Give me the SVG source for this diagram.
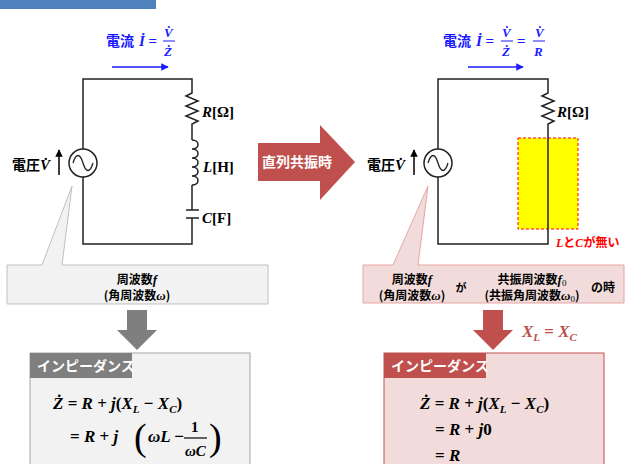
<svg xmlns="http://www.w3.org/2000/svg" width="630" height="464" viewBox="0 0 630 464">
<style>
.w{fill:none;stroke:#222;stroke-width:1.5}
.m{font-family:"Liberation Serif",serif;font-weight:bold;font-style:italic}
.mu{font-family:"Liberation Serif",serif;font-weight:bold;font-style:normal}
.mp{font-family:"Liberation Serif",serif;font-weight:normal;font-style:normal}
.j{font-family:"Noto Sans CJK JP",sans-serif;font-weight:bold;font-style:normal}
.blue{fill:#1a1aff}
</style>
<defs>
<marker id="ab" viewBox="0 0 10 10" refX="9" refY="5" markerWidth="5" markerHeight="5" orient="auto"><path d="M0,0L10,5L0,10z" fill="#1a1aff"/></marker>
<marker id="ak" viewBox="0 0 10 10" refX="9" refY="5" markerWidth="5" markerHeight="5" orient="auto"><path d="M0,0L10,5L0,10z" fill="#000"/></marker>
</defs>
<rect x="0" y="-2" width="156" height="11" fill="#4f81bd"/>

<g id="left-circuit">
<path class="w" d="M83,149V79H192V93l-6,3 12,5-12,5 12,5-12,5 12,5-6,3V140M192,185V210M186,210h13M186,218h13M192,218V244H83V177"/>
<path class="w" d="M192,140c8,0 8,9 0,9c8,0 8,9 0,9c8,0 8,9 0,9c8,0 8,9 0,9c8,0 8,9 0,9"/>
<circle cx="83" cy="163" r="14" fill="#fff" stroke="#222" stroke-width="1.5"/>
<path d="M73,163c3,-10 7,-10 10,0s7,10 10,0" fill="none" stroke="#222" stroke-width="1.3"/>
<text class="m" x="202" y="117" font-size="15">R<tspan class="mu">[Ω]</tspan></text>
<text class="m" x="203" y="172" font-size="15">L<tspan class="mu">[H]</tspan></text>
<text class="m" x="202" y="223" font-size="15">C<tspan class="mu">[F]</tspan></text>
<text class="j" x="12" y="170" font-size="14">電圧<tspan class="m" font-size="15">V̇</tspan></text>
<line x1="59" y1="175" x2="59" y2="150" stroke="#000" stroke-width="1.5" marker-end="url(#ak)"/>
<text class="j blue" x="106" y="46" font-size="14">電流</text>
<text class="m blue" x="139" y="46" font-size="15">İ <tspan class="mu">=</tspan></text>
<text class="m blue" x="164" y="37" font-size="13">V̇</text>
<line x1="163" y1="41" x2="175" y2="41" stroke="#1a1aff"/>
<text class="m blue" x="164" y="56" font-size="13">Ż</text>
<line x1="112" y1="67" x2="168" y2="67" stroke="#1a1aff" stroke-width="1.5" marker-end="url(#ab)"/>
</g>

<g id="left-callout">
<path d="M72,186L62,265H268V304H7V265H42Z" fill="#f2f2f2" stroke="#bfbfbf" stroke-width="1"/>
<text class="j" x="137" y="284" font-size="12" text-anchor="middle">周波数<tspan class="m" font-size="13">f</tspan></text>
<text class="j" x="137" y="300" font-size="12" text-anchor="middle">(角周波数<tspan class="m" font-size="13">ω</tspan>)</text>
</g>
<path id="gray-arrow" d="M127,310H147V330H157L137,350L117,330H127Z" fill="#7f7f7f"/>

<g id="left-imp">
<rect x="30" y="353" width="220" height="120" fill="#f2f2f2" stroke="#a6a6a6"/>
<rect x="30" y="353" width="102" height="25" fill="#7f7f7f"/>
<text class="j" x="37" y="371" font-size="14" fill="#fff">インピーダンス</text>
<text class="m" x="53" y="409" font-size="17">Ż <tspan class="mu">=</tspan> R <tspan class="mu">+</tspan> j<tspan class="mu">(</tspan>X<tspan font-size="11" dy="4">L</tspan><tspan dy="-4"> </tspan><tspan class="mu">−</tspan> X<tspan font-size="11" dy="4">C</tspan><tspan class="mu" dy="-4">)</tspan></text>
<text class="m" x="70" y="442" font-size="17"><tspan class="mu">=</tspan> R <tspan class="mu">+</tspan> j</text>
<text class="mp" x="134" y="450" font-size="38">(</text>
<text class="m" x="148" y="442" font-size="17">ωL <tspan class="mu">−</tspan></text>
<text class="mu" x="191" y="432" font-size="15">1</text>
<line x1="184" y1="438" x2="207" y2="438" stroke="#000" stroke-width="1.2"/>
<text class="m" x="185" y="456" font-size="15">ωC</text>
<text class="mp" x="209" y="450" font-size="38">)</text>
</g>

<g id="mid-arrow">
<path d="M258,143H320V125L355,162L320,200V181H258Z" fill="#c0504d"/>
<text class="j" x="262" y="167" font-size="14" fill="#fff">直列共振時</text>
</g>

<g id="right-circuit">
<rect x="518" y="138" width="60" height="91" fill="#ffff00" stroke="#ff0000" stroke-dasharray="3,2"/>
<path class="w" d="M438,149V79H548V93l-6,3 12,5-12,5 12,5-12,5 12,5-6,3V244H438V177"/>
<circle cx="438" cy="163" r="14" fill="#fff" stroke="#222" stroke-width="1.5"/>
<path d="M428,163c3,-10 7,-10 10,0s7,10 10,0" fill="none" stroke="#222" stroke-width="1.3"/>
<text class="m" x="557" y="117" font-size="15">R<tspan class="mu">[Ω]</tspan></text>
<text class="j" x="367" y="170" font-size="14">電圧<tspan class="m" font-size="15">V̇</tspan></text>
<line x1="414" y1="175" x2="414" y2="150" stroke="#000" stroke-width="1.5" marker-end="url(#ak)"/>
<text class="j blue" x="443" y="46" font-size="14">電流</text>
<text class="m blue" x="476" y="46" font-size="15">İ <tspan class="mu">=</tspan></text>
<text class="m blue" x="502" y="37" font-size="13">V̇</text>
<line x1="501" y1="41" x2="513" y2="41" stroke="#1a1aff"/>
<text class="m blue" x="502" y="56" font-size="13">Ż</text>
<text class="mu blue" x="517" y="46" font-size="15">=</text>
<text class="m blue" x="535" y="37" font-size="13">V̇</text>
<line x1="533" y1="41" x2="545" y2="41" stroke="#1a1aff"/>
<text class="m blue" x="534" y="56" font-size="13">R</text>
<line x1="468" y1="67" x2="523" y2="67" stroke="#1a1aff" stroke-width="1.5" marker-end="url(#ab)"/>
<text class="m" x="556" y="247" font-size="12" fill="#ff0000">L<tspan class="j">と</tspan>C<tspan class="j">が無い</tspan></text>
</g>

<g id="right-callout">
<path d="M428,186L418,265H624V303H363V265H393Z" fill="#f2dcdb" stroke="#e6a5a3" stroke-width="1"/>
<text class="j" x="412" y="284" font-size="12" text-anchor="middle">周波数<tspan class="m" font-size="13">f</tspan></text>
<text class="j" x="412" y="300" font-size="12" text-anchor="middle">(角周波数<tspan class="m" font-size="13">ω</tspan>)</text>
<text class="j" x="461" y="292" font-size="11" text-anchor="middle">が</text>
<text class="j" x="532" y="284" font-size="12" text-anchor="middle">共振周波数<tspan class="m" font-size="13">f</tspan><tspan class="mp" font-size="9" dy="2">0</tspan></text>
<text class="j" x="532" y="300" font-size="12" text-anchor="middle">(共振角周波数<tspan class="m" font-size="13">ω</tspan><tspan class="mp" font-size="9" dy="2">0</tspan><tspan dy="-2">)</tspan></text>
<text class="j" x="603" y="292" font-size="12" text-anchor="middle">の時</text>
</g>
<path id="red-arrow" d="M483,310H503V330H513L493,350L473,330H483Z" fill="#c0504d"/>
<text class="m" x="522" y="337" font-size="17" fill="#c0504d">X<tspan font-size="11" dy="4">L</tspan><tspan class="mu" dy="-4"> = </tspan>X<tspan font-size="11" dy="4">C</tspan></text>

<g id="right-imp">
<rect x="384" y="353" width="220" height="120" fill="#f2dcdb" stroke="#c0504d"/>
<rect x="384" y="353" width="102" height="25" fill="#c0504d"/>
<text class="j" x="391" y="371" font-size="14" fill="#fff">インピーダンス</text>
<text class="m" x="420" y="409" font-size="17">Ż <tspan class="mu">=</tspan> R <tspan class="mu">+</tspan> j<tspan class="mu">(</tspan>X<tspan font-size="11" dy="4">L</tspan><tspan dy="-4"> </tspan><tspan class="mu">−</tspan> X<tspan font-size="11" dy="4">C</tspan><tspan class="mu" dy="-4">)</tspan></text>
<text class="m" x="435" y="435" font-size="17"><tspan class="mu">=</tspan> R <tspan class="mu">+</tspan> j<tspan class="mu">0</tspan></text>
<text class="m" x="435" y="461" font-size="17"><tspan class="mu">=</tspan> R</text>
</g>
</svg>
